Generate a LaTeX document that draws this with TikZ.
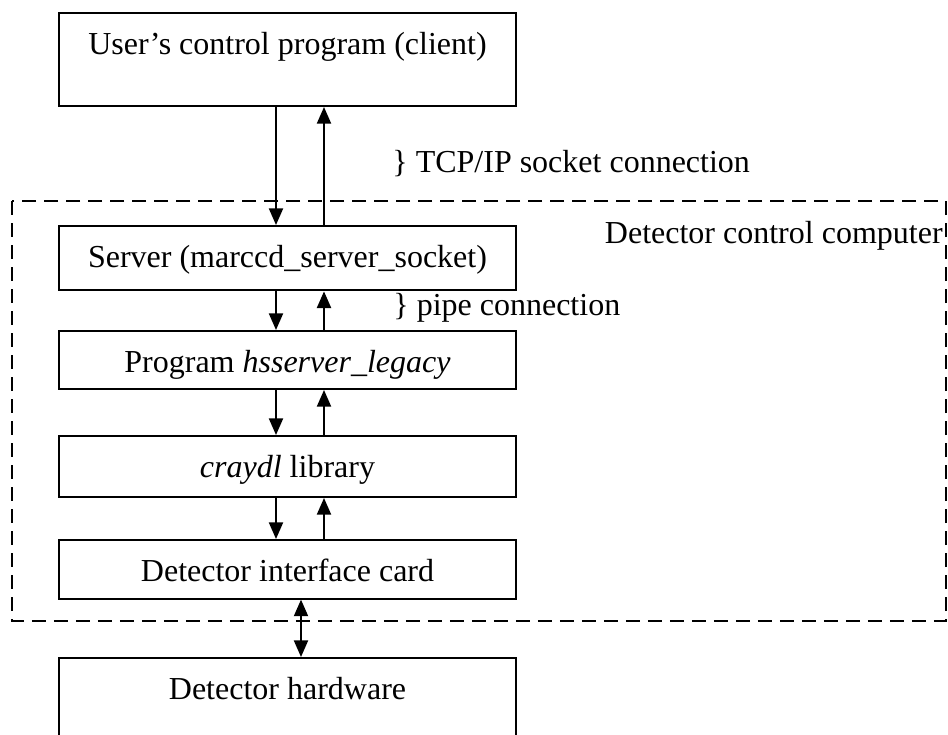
\documentclass[tikz,border=0pt]{standalone}
\usepackage{fontspec}
\setmainfont{Liberation Serif}
\usetikzlibrary{arrows.meta}

\tikzset{
  layer/.style={draw, line width=1pt, minimum width=228.5pt, inner sep=0pt, text height=20.5pt, anchor=north},
  note/.style={inner sep=0pt}
}

\begin{document}
\begin{tikzpicture}[x=0.5pt,y=-0.5pt,font=\fontsize{16}{19}\selectfont]

   \useasboundingbox (0,0) rectangle (948,734);

     \coordinate (dn) at (276,0);
      \coordinate (up) at (324,0);
       \coordinate (bi) at (301,0);

    \node[layer, text depth=26pt] (client) at (287.5,12) {User's control program (client)};
    \node[layer, text depth=11.7pt] (server) at (287.5,225) {Server (marccd\_server\_socket)};
    \node[layer, text depth=8.5pt] (hsserver) at (287.5,330) {Program \textit{hsserver\_legacy}};
    \node[layer, text depth=10pt] (craydl) at (287.5,435) {\textit{craydl} library};
    \node[layer, text depth=8.8pt] (card) at (287.5,539) {Detector interface card};
    \node[layer, text depth=26pt] (hardware) at (287.5,657) {Detector hardware};

    \node[note, anchor=base west] (tcp) at (392,172) {\} TCP/IP socket connection};
    \node[note, anchor=base west] (pipe) at (393,315) {\} pipe connection};
    \node[note, anchor=base east] (dcc) at (943,243) {Detector control computer};

   \draw[line width=1pt, dash pattern=on 7pt off 4pt] (11.8,201) rectangle (946,621);

   \tikzset{every path/.style={line width=1pt, -{Triangle[width=7pt,length=8.3pt]}}}
    \draw (client.south -| dn) -- (server.north -| dn);
    \draw (server.north -| up) -- (client.south -| up);
    \draw (server.south -| dn) -- (hsserver.north -| dn);
    \draw (hsserver.north -| up) -- (server.south -| up);
    \draw (hsserver.south -| dn) -- (craydl.north -| dn);
    \draw (craydl.north -| up) -- (hsserver.south -| up);
    \draw (craydl.south -| dn) -- (card.north -| dn);
    \draw (card.north -| up) -- (craydl.south -| up);
    \draw[{Triangle[width=7pt,length=8.3pt]}-{Triangle[width=7pt,length=8.3pt]}] (card.south -| bi) -- (hardware.north -| bi);

\end{tikzpicture}
\end{document}
